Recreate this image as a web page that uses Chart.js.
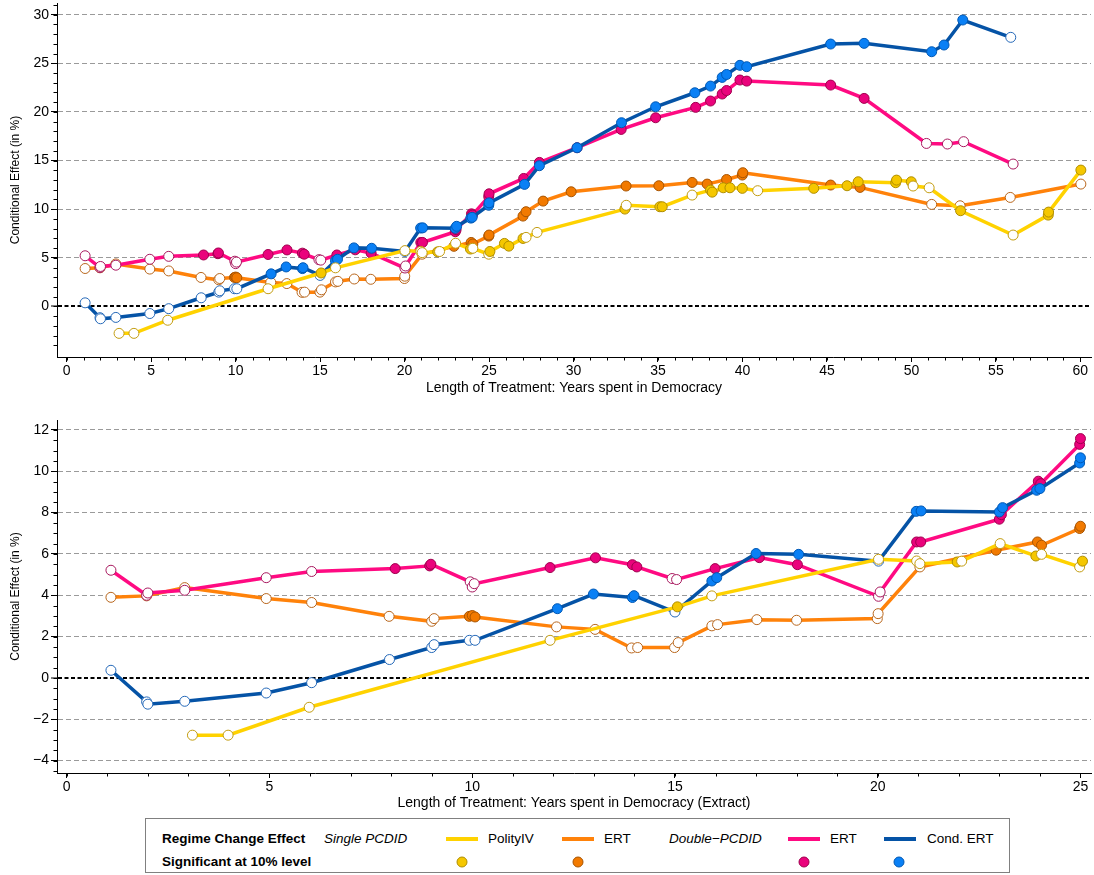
<!DOCTYPE html>
<html>
<head>
<meta charset="utf-8">
<script src="https://cdn.jsdelivr.net/npm/chart.js@4.4.1/dist/chart.umd.min.js"></script>
<style>
  body { margin: 0; background: #fff; font-family: "Liberation Sans", Arial, sans-serif; }
  #topWrap { position: absolute; left: 0; top: 0; }
  #botWrap { position: absolute; left: 0; top: 400px; }
  #legend { position: absolute; left: 145px; top: 818px; width: 865px; height: 55px;
            border: 1px solid #808080; box-sizing: border-box; }
  .lt { position: absolute; font-size: 13.5px; color: #000; white-space: nowrap; transform: translateY(-50%); line-height: 16px; }
  .b { font-weight: bold; }
  .i { font-style: italic; }
  .ln { position: absolute; width: 32px; height: 4px; transform: translateY(-50%); }
  .dot { position: absolute; width: 9px; height: 9px; border-radius: 50%; border: 1px solid; transform: translate(-50%, -50%); }
</style>
</head>
<body>
<div id="topWrap"><canvas id="topChart" width="1094" height="400"></canvas></div>
<div id="botWrap"><canvas id="botChart" width="1094" height="418"></canvas></div>
<div id="legend"></div>

<script>
// PolityIV (single PCDID)
const polityX = [3.1,3.98,5.98,11.92,15.06,15.91,20.02,20.96,21.04,21.96,22.07,23.02,23.9,24.04,24.98,25.05,25.91,26.17,27.01,27.19,27.84,33.04,33.12,35.11,35.25,37.02,38.11,38.21,38.86,39.26,39.99,40.9,44.22,46.19,46.85,49.07,49.12,49.99,50.1,51.05,52.91,56.02,58.1,58.12,60.03];
const polityY = [-2.77,-2.77,-1.42,1.82,3.44,3.97,5.74,5.66,5.53,5.61,5.65,6.5,5.9,5.98,5.37,5.65,6.48,6.2,6.99,7.1,7.61,10.01,10.4,10.25,10.25,11.45,11.96,11.75,12.2,12.2,12.14,11.9,12.14,12.41,12.82,12.72,12.99,12.82,12.38,12.2,9.84,7.34,9.39,9.7,14.02];
const politySig = [0,0,0,0,1,0,0,0,0,1,0,0,1,0,0,1,1,1,1,0,0,1,0,1,1,0,1,1,1,1,1,0,1,1,1,1,1,1,0,0,1,0,1,1,1];

// ERT (single PCDID)
const ertX = [1.09,1.97,2.91,4.92,6.04,7.95,9.0,9.06,9.93,10.0,10.07,12.08,13.03,13.93,14.08,14.99,15.08,15.91,16.05,17.02,18.0,19.99,20.01,21.04,22.92,23.94,24.04,24.98,25.0,27.01,27.19,28.2,29.86,33.11,35.05,37.02,37.91,39.06,39.99,40.02,45.22,46.96,51.2,52.88,55.85,60.03];
const ertY = [3.9,3.97,4.37,3.84,3.65,2.98,2.74,2.87,2.98,3.02,2.95,2.47,2.35,1.45,1.47,1.47,1.71,2.52,2.58,2.82,2.79,2.87,3.11,5.37,6.18,6.58,6.42,7.23,7.34,9.29,9.74,10.83,11.79,12.38,12.41,12.75,12.58,13.05,13.51,13.75,12.48,12.24,10.49,10.35,11.21,12.58];
const ertSig = [0,0,0,0,0,0,0,0,1,1,1,0,0,0,0,0,0,0,0,0,0,0,0,0,1,1,1,1,1,1,1,1,1,1,1,1,1,1,1,1,1,1,0,0,0,0];

// ERT (double PCDID)
const dblX = [1.09,1.97,2.0,2.91,4.92,6.04,8.1,8.95,8.98,9.95,10.0,10.05,11.92,13.04,13.95,14.06,14.93,15.04,15.99,17.08,18.02,20.02,20.06,20.96,21.06,23.0,23.05,23.96,24.02,24.98,25.0,27.05,27.98,30.21,32.82,34.86,37.23,38.11,38.8,39.06,39.85,40.25,45.22,47.2,50.89,52.13,53.09,56.02];
const dblY = [5.21,4.0,4.11,4.24,4.85,5.15,5.29,5.42,5.5,4.65,4.4,4.56,5.34,5.81,5.48,5.37,4.81,4.76,5.29,5.82,5.48,3.95,4.16,6.58,6.58,7.68,7.9,9.52,9.4,11.3,11.58,13.16,14.81,16.32,18.2,19.4,20.47,21.12,21.84,22.2,23.28,23.17,22.76,21.39,16.76,16.7,16.94,14.64];
const dblSig = [0,0,0,0,0,0,1,1,1,0,0,0,1,1,1,1,0,0,1,1,1,0,0,1,1,1,1,1,1,1,1,1,1,1,1,1,1,1,1,1,1,1,1,1,0,0,0,0];

// Cond. ERT (double PCDID)
const condX = [1.09,1.97,2.0,2.91,4.92,6.04,7.96,9.0,9.06,9.93,10.07,12.1,12.99,13.95,13.99,15.0,15.91,16.03,17.0,18.05,20.02,20.95,21.07,23.0,23.08,23.92,24.0,24.98,25.0,27.1,27.98,30.21,32.84,34.86,37.18,38.11,38.8,39.06,39.85,40.25,45.22,47.2,51.2,51.93,53.04,55.88];
const condY = [0.37,-1.16,-1.27,-1.13,-0.73,-0.23,0.89,1.47,1.61,1.82,1.82,3.35,4.06,3.89,3.98,3.19,4.69,4.85,6.02,5.98,5.65,8.06,8.08,8.03,8.24,9.08,9.16,10.4,10.65,12.55,14.47,16.32,18.89,20.53,21.97,22.66,23.55,23.85,24.79,24.65,26.98,27.05,26.19,26.88,29.45,27.67];
const condSig = [0,0,0,0,0,0,0,0,0,0,0,1,1,1,1,0,1,1,1,1,0,1,1,1,1,1,1,1,1,1,1,1,1,1,1,1,1,1,1,1,1,1,1,1,1,0];

const topXTicks = [0,5,10,15,20,25,30,35,40,45,50,55,60];
const topYTicks = [0,5,10,15,20,25,30];
const botXTicks = [0,5,10,15,20,25];
const botYTicks = [-4,-2,0,2,4,6,8,10,12];

const styles = [
  {label:'PolityIV', xs:polityX, ys:polityY, sig:politySig, line:'#FFD200', fill:'#F5C700', edge:'#B08E00', open:'#C29C10', order:0},
  {label:'Cond. ERT', xs:condX, ys:condY, sig:condSig, line:'#0553A6', fill:'#0A80F5', edge:'#0058B4', open:'#2468B8', order:1},
  {label:'ERT (double)', xs:dblX, ys:dblY, sig:dblSig, line:'#FF0A82', fill:'#EA037C', edge:'#A0004E', open:'#A8185E', order:2},
  {label:'ERT', xs:ertX, ys:ertY, sig:ertSig, line:'#FF820A', fill:'#F27A00', edge:'#A85400', open:'#B8661C', order:3}
];

function buildSets(maxX) {
  return styles.map(s => {
    const pts = [], bg = [], bc = [];
    s.xs.forEach((x, i) => {
      if (x > maxX) return;
      pts.push({x: x, y: s.ys[i]});
      bg.push(s.sig[i] ? s.fill : '#ffffff');
      bc.push(s.sig[i] ? s.edge : s.open);
    });
    return {
      label: s.label, data: pts, showLine: true, fill: false, tension: 0,
      borderColor: s.line, borderWidth: 3.5,
      pointRadius: 5, pointHoverRadius: 5, pointBorderWidth: 1,
      pointBackgroundColor: bg, pointBorderColor: bc, order: s.order
    };
  });
}

// short minor ticks on both axes
const minorTicks = {
  id: 'minorTicks',
  afterDraw(chart, args, o) {
    const {ctx} = chart, x = chart.scales.x, y = chart.scales.y;
    ctx.save();
    ctx.strokeStyle = '#000';
    ctx.lineWidth = 1;
    ctx.beginPath();
    for (let v = o.xFrom; v <= x.max + 1e-9; v += o.xStep) {
      const px = Math.round(x.getPixelForValue(v)) + 0.5;
      ctx.moveTo(px, x.top); ctx.lineTo(px, x.top + 3.5);
    }
    for (let v = o.yFrom; v <= y.max + 1e-9; v += o.yStep) {
      const py = Math.round(y.getPixelForValue(v)) + 0.5;
      ctx.moveTo(y.right, py); ctx.lineTo(y.right - 3.5, py);
    }
    ctx.stroke();
    ctx.restore();
  }
};

const tickFont = {family: '"Liberation Sans", Arial, sans-serif', size: 14};
const fmt = v => v < 0 ? '\u2212' + Math.abs(v) : String(v);

function makeChart(id, o) {
  return new Chart(document.getElementById(id), {
    type: 'scatter',
    data: {datasets: buildSets(o.maxData)},
    plugins: [minorTicks],
    options: {
      responsive: false, animation: false, events: [],
      layout: {autoPadding: false, padding: {top: o.padTop, right: 3, left: 0, bottom: 0}},
      plugins: {
        legend: {display: false}, tooltip: {enabled: false},
        minorTicks: {xFrom: 0, xStep: 1, yFrom: o.minorFrom, yStep: o.minorStep}
      },
      scales: {
        x: {
          type: 'linear', min: o.xmin, max: o.xmax,
          afterBuildTicks: s => { s.ticks = o.xTicks.map(v => ({value: v})); },
          afterFit: s => { s.height = o.xh; s.paddingLeft = 0; s.paddingRight = 0; },
          ticks: {font: tickFont, color: '#000', maxRotation: 0, autoSkip: false, padding: 1, callback: fmt},
          grid: {drawOnChartArea: false, drawTicks: true, tickLength: 5, tickColor: '#000', tickWidth: 1},
          border: {color: '#000', width: 1},
          title: {display: true, text: o.xTitle, color: '#000',
                  font: {family: '"Liberation Sans", Arial, sans-serif', size: 14},
                  padding: {top: 0, bottom: o.xTitlePad}}
        },
        y: {
          min: o.ymin, max: o.ymax,
          afterBuildTicks: s => { s.ticks = o.yTicks.map(v => ({value: v})); },
          afterFit: s => { s.width = 57; s.paddingTop = 0; s.paddingBottom = 0; },
          ticks: {font: tickFont, color: '#000', autoSkip: false, padding: 2, callback: fmt},
          grid: {
            drawTicks: true, tickLength: 6, tickColor: '#000', tickWidth: 1,
            color: c => (c.tick && c.tick.value === 0) ? '#000' : '#9a9a9a',
            lineWidth: c => (c.tick && c.tick.value === 0) ? 2 : 1
          },
          border: {color: '#000', width: 1,
                   dash: c => (c.tick && c.tick.value === 0) ? [4, 2.5] : [5, 3]},
          title: {display: true, text: 'Conditional Effect (in %)', color: '#000',
                  font: {family: '"Liberation Sans", Arial, sans-serif', size: 12},
                  padding: {top: 8, bottom: 0}}
        }
      }
    }
  });
}

makeChart('topChart', {
  maxData: 100, padTop: 3, xh: 43, xTitlePad: 3,
  xmin: -0.574, xmax: 60.63, ymin: -5.2, ymax: 31.2,
  xTicks: topXTicks, yTicks: topYTicks, minorFrom: -4, minorStep: 1,
  xTitle: 'Length of Treatment: Years spent in Democracy'
});

makeChart('botChart', {
  maxData: 25.1, padTop: 20, xh: 45, xTitlePad: 6,
  xmin: -0.24, xmax: 25.26, ymin: -4.6, ymax: 12.48,
  xTicks: botXTicks, yTicks: botYTicks, minorFrom: -4.5, minorStep: 0.5,
  xTitle: 'Length of Treatment: Years spent in Democracy (Extract)'
});

// legend (HTML, real text)
const legendItems = [
  {t:'text', cls:'b', x:16, y:20, s:'Regime Change Effect'},
  {t:'text', cls:'i', x:178, y:20, s:'Single PCDID'},
  {t:'line', c:'#FFD200', x:300, y:20},
  {t:'text', cls:'', x:342, y:20, s:'PolityIV'},
  {t:'line', c:'#FF820A', x:416, y:20},
  {t:'text', cls:'', x:458, y:20, s:'ERT'},
  {t:'text', cls:'i', x:523, y:20, s:'Double\u2212PCDID'},
  {t:'line', c:'#FF0A82', x:642, y:20},
  {t:'text', cls:'', x:684, y:20, s:'ERT'},
  {t:'line', c:'#0553A6', x:738, y:20},
  {t:'text', cls:'', x:781, y:20, s:'Cond. ERT'},
  {t:'text', cls:'b', x:16, y:43, s:'Significant at 10% level'},
  {t:'dot', c:'#F5C700', e:'#B08E00', x:316, y:43},
  {t:'dot', c:'#F27A00', e:'#A85400', x:432, y:43},
  {t:'dot', c:'#EA037C', e:'#A0004E', x:658, y:43},
  {t:'dot', c:'#0A80F5', e:'#0058B4', x:753, y:43}
];
const lg = document.getElementById('legend');
legendItems.forEach(it => {
  const d = document.createElement('div');
  if (it.t === 'text') {
    d.className = 'lt ' + it.cls;
    d.textContent = it.s;
  } else if (it.t === 'line') {
    d.className = 'ln';
    d.style.background = it.c;
  } else {
    d.className = 'dot';
    d.style.background = it.c;
    d.style.borderColor = it.e;
  }
  d.style.left = it.x + 'px';
  d.style.top = it.y + 'px';
  lg.appendChild(d);
});
</script>
</body>
</html>
